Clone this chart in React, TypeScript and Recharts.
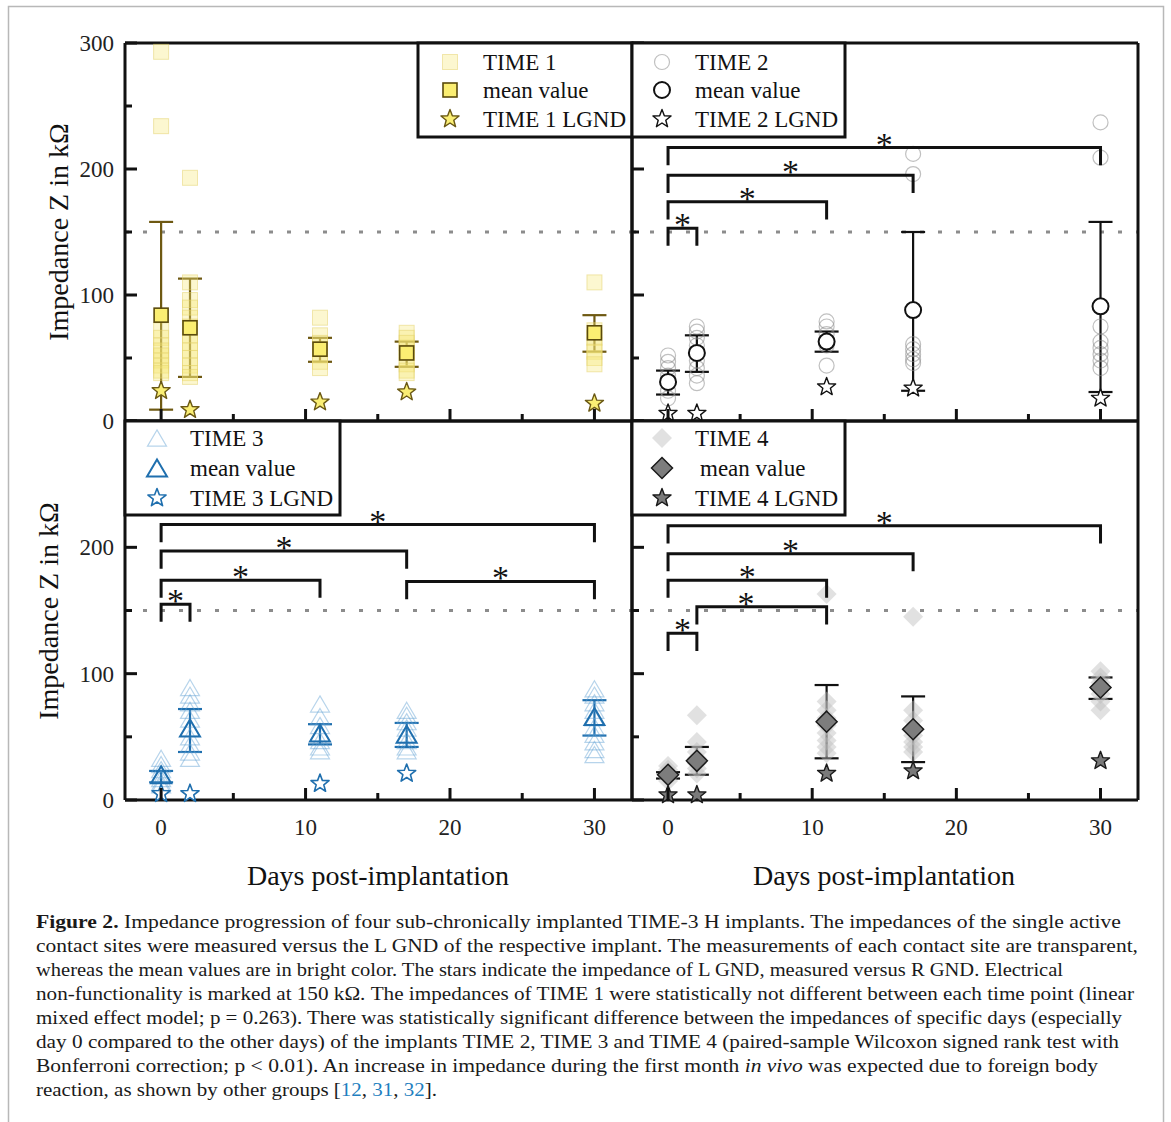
import React from "react";
import { ScatterChart, Scatter, XAxis, YAxis, ErrorBar, ReferenceLine } from "recharts";

const FONT = "'Liberation Serif', 'Times New Roman', serif";

// measurement days (x positions)
const days = [0, 2, 11, 17, 30];
const xTicks = [0, 5, 10, 15, 20, 25, 30];
const yTicks = [0, 50, 100, 150, 200, 250, 300];
const xLabelTicks = [0, 10, 20, 30];
const topYLabels = [0, 100, 200, 300];
const bottomYLabels = [0, 100, 200];
const limitValue = 150;

// TIME 1
const time1Sites = [
  [293, 234, 72, 66, 60, 56, 52, 48, 44, 40, 38],
  [193, 110, 96, 90, 82, 75, 68, 62, 56, 50, 44, 38, 35],
  [82, 68, 62, 57, 52, 47, 42],
  [70, 66, 62, 58, 54, 50, 45, 40, 38],
  [110, 72, 66, 60, 55, 50, 45],
];
const time1Mean = [84, 74, 57, 54, 70];
const time1Upper = [158, 113, 66, 63, 84];
const time1Lower = [9, 35, 47, 43, 55];
const time1Lgnd = [24, 9, 15, 23, 14];
const time1LgndDays = [0, 2, 11, 17, 30];
const time1Brackets: number[][] = [];

// TIME 2
const time2Sites = [
  [52, 47, 42, 36, 30, 24, 18],
  [75, 71, 66, 60, 54, 48, 42, 36, 30],
  [79, 75, 69, 60, 44],
  [212, 196, 61, 57, 53, 49, 46],
  [237, 209, 75, 63, 58, 53, 48, 42],
];
const time2Mean = [31, 54, 63, 88, 91];
const time2Upper = [40, 68, 71, 150, 158];
const time2Lower = [21, 39, 55, 24, 23];
const time2Lgnd = [6, 6, 27, 26, 18];
const time2LgndDays = [0, 2, 11, 17, 30];
const time2Brackets = [[0, 2, 153], [0, 11, 174], [0, 17, 195], [0, 30, 217]];

// TIME 3
const time3Sites = [
  [33, 28, 24, 20, 17, 14, 12],
  [89, 83, 77, 71, 64, 57, 50, 44, 38, 33],
  [76, 66, 59, 53, 47, 42, 39],
  [71, 67, 62, 57, 52, 47, 42, 39],
  [88, 83, 77, 71, 65, 58, 52, 46, 40, 36],
];
const time3Mean = [20, 57, 53, 52, 66];
const time3Upper = [23, 72, 60, 61, 79];
const time3Lower = [14, 38, 44, 42, 51];
const time3Lgnd = [5, 5, 13, 21];
const time3LgndDays = [0, 2, 11, 17];
const time3Brackets = [[0, 2, 155], [0, 11, 174], [0, 17, 197], [0, 30, 218], [17, 30, 173]];

// TIME 4
const time4Sites = [
  [27, 24, 21, 18, 15],
  [67, 46, 38, 33, 29, 25, 21],
  [163, 78, 71, 65, 59, 53, 47, 42, 37],
  [145, 71, 63, 57, 51, 46, 42, 38],
  [102, 97, 93, 88, 84, 78, 71],
];
const time4Mean = [20, 31, 62, 56, 89];
const time4Upper = [22, 42, 91, 82, 97];
const time4Lower = [17, 20, 33, 30, 80];
const time4Lgnd = [4, 4, 21, 23, 31];
const time4LgndDays = [0, 2, 11, 17, 30];
// [from, to, height, asterisk x (optional)]
const time4Brackets = [[0, 2, 132], [2, 11, 153, 5.4], [0, 11, 174], [0, 17, 195], [0, 30, 217]];

const captionLines: [string, string][][] = [
  [["Figure 2.", "b"], [" Impedance progression of four sub-chronically implanted TIME-3 H implants. The impedances of the single active", ""]],
  [["contact sites were measured versus the L GND of the respective implant. The measurements of each contact site are transparent,", ""]],
  [["whereas the mean values are in bright color. The stars indicate the impedance of L GND, measured versus R GND. Electrical", ""]],
  [["non-functionality is marked at 150 k\u03a9. The impedances of TIME 1 were statistically not different between each time point (linear", ""]],
  [["mixed effect model; p = 0.263). There was statistically significant difference between the impedances of specific days (especially", ""]],
  [["day 0 compared to the other days) of the implants TIME 2, TIME 3 and TIME 4 (paired-sample Wilcoxon signed rank test with", ""]],
  [["Bonferroni correction; p < 0.01). An increase in impedance during the first month ", ""], ["in vivo", "i"], [" was expected due to foreign body", ""]],
  [["reaction, as shown by other groups [", ""], ["12", "c"], [", ", ""], ["31", "c"], [", ", ""], ["32", "c"], ["].", ""]],
];
const captionEnds = [1121, 1138, 1063, 1134, 1122, 1119, 1098, 437];

type St = { kind: string; s: number; fill: string; stroke: string; sw?: number; fo?: number; so?: number };

function starPath(cx: number, cy: number, R: number) {
  const r = R * 0.42;
  let d = "";
  for (let i = 0; i < 10; i++) {
    const rad = i % 2 === 0 ? R : r;
    const a = -Math.PI / 2 + (i * Math.PI) / 5;
    d += (i === 0 ? "M" : "L") + (cx + rad * Math.cos(a)).toFixed(2) + "," + (cy + rad * Math.sin(a)).toFixed(2);
  }
  return d + "Z";
}

function Marker({ st, cx, cy }: { st: St; cx: number; cy: number }) {
  const p = {
    fill: st.fill,
    stroke: st.stroke,
    strokeWidth: st.sw ?? 1,
    fillOpacity: st.fo ?? 1,
    strokeOpacity: st.so ?? 1,
  };
  const s = st.s;
  if (st.kind === "square") return <rect x={cx - s / 2} y={cy - s / 2} width={s} height={s} {...p} />;
  if (st.kind === "circle") return <circle cx={cx} cy={cy} r={s / 2} {...p} />;
  if (st.kind === "triangle") {
    const h = s * 0.85;
    return <path d={`M${cx},${cy - h / 2}L${cx + s / 2},${cy + h / 2}L${cx - s / 2},${cy + h / 2}Z`} {...p} />;
  }
  if (st.kind === "diamond")
    return <path d={`M${cx},${cy - s / 2}L${cx + s / 2},${cy}L${cx},${cy + s / 2}L${cx - s / 2},${cy}Z`} {...p} />;
  return <path d={starPath(cx, cy, s / 2)} {...p} strokeLinejoin="round" />;
}

function Tick(props: any) {
  const { x, y, payload, side, labels } = props;
  const v = payload.value;
  const major = side === "b" || side === "t" ? v % 10 === 0 : v % 100 === 0;
  const len = major ? 12 : 7;
  const pts =
    side === "b" ? [x, y, x, y - len] : side === "t" ? [x, y, x, y + len] : side === "l" ? [x, y, x + len, y] : [x, y, x - len, y];
  const show = labels && labels.includes(v);
  return (
    <g>
      <line x1={pts[0]} y1={pts[1]} x2={pts[2]} y2={pts[3]} stroke="#111" strokeWidth={3} />
      {show && side === "b" && (
        <text x={x} y={y + 35} textAnchor="middle" fontFamily={FONT} fontSize={23} fill="#222">
          {v}
        </text>
      )}
      {show && side === "l" && (
        <text x={x - 11} y={y + 8} textAnchor="end" fontFamily={FONT} fontSize={23} fill="#222">
          {v}
        </text>
      )}
    </g>
  );
}

const M = { top: 12, right: 12, bottom: 70, left: 110 };
const xDomain = [-2.5, 32.6];
const frame = { stroke: "#111", strokeWidth: 3 };

function Panel(cfg: any) {
  const { left, top, w, h, sites, mean, upper, lower, lgnd, lgndDays, brackets, siteSt, meanSt, starSt, errColor, xLabels, yLabels } = cfg;
  const siteData = days.flatMap((d, i) => sites[i].map((v: number) => ({ x: d, y: v })));
  const meanData = days.map((d, i) => ({ x: d, y: mean[i], err: [mean[i] - lower[i], upper[i] - mean[i]] }));
  const starData = lgndDays.map((d: number, i: number) => ({ x: d, y: lgnd[i] }));
  const leg = 14;
  // axes take 1px each, so the chart box grows by 2px on each axis
  return (
    <div style={{ position: "absolute", left: left - M.left - 1, top: top - M.top - 1 }}>
      <ScatterChart width={w + M.left + M.right + 2} height={h + M.top + M.bottom + 2} margin={M}>
        <XAxis xAxisId="b" orientation="bottom" dataKey="x" type="number" domain={xDomain} ticks={xTicks} interval={0}
          height={1} tickSize={0} tickMargin={0} tickLine={false} axisLine={frame}
          tick={(p: any) => <Tick {...p} side="b" labels={xLabels ? xLabelTicks : null} />} />
        <XAxis xAxisId="t" orientation="top" dataKey="x" type="number" domain={xDomain} ticks={xTicks} interval={0}
          height={1} tickSize={0} tickMargin={0} tickLine={false} axisLine={frame}
          tick={(p: any) => <Tick {...p} side="t" />} />
        <YAxis yAxisId="l" orientation="left" dataKey="y" type="number" domain={[0, 300]} ticks={yTicks} interval={0}
          width={1} tickSize={0} tickMargin={0} tickLine={false} axisLine={frame}
          tick={(p: any) => <Tick {...p} side="l" labels={yLabels} />} />
        <YAxis yAxisId="r" orientation="right" dataKey="y" type="number" domain={[0, 300]} ticks={yTicks} interval={0}
          width={1} tickSize={0} tickMargin={0} tickLine={false} axisLine={frame}
          tick={(p: any) => <Tick {...p} side="r" />} />
        <ReferenceLine xAxisId="b" yAxisId="l" y={limitValue} stroke="#8c8c8c" strokeWidth={3} strokeDasharray="4 14" />
        <Scatter xAxisId="b" yAxisId="l" data={siteData} isAnimationActive={false}
          shape={(p: any) => <Marker st={siteSt} cx={p.cx} cy={p.cy} />} />
        <Scatter xAxisId="b" yAxisId="l" data={meanData} isAnimationActive={false}
          shape={(p: any) => <Marker st={meanSt} cx={p.cx} cy={p.cy} />}>
          <ErrorBar dataKey="err" direction="y" width={12} stroke={errColor} strokeWidth={2.2} />
        </Scatter>
        <Scatter xAxisId="b" yAxisId="l" data={starData} isAnimationActive={false}
          shape={(p: any) => <Marker st={starSt} cx={p.cx} cy={p.cy} />} />
        {brackets.map((b: number[], i: number) => (
          <Scatter key={"br" + i} xAxisId="b" yAxisId="l" isAnimationActive={false}
            data={[{ x: b[0], y: b[2] - leg }, { x: b[0], y: b[2] }, { x: b[1], y: b[2] }, { x: b[1], y: b[2] - leg }]}
            line={{ stroke: "#111", strokeWidth: 3 }} lineType="joint" shape={() => <g />} />
        ))}
        <Scatter xAxisId="b" yAxisId="l" isAnimationActive={false}
          data={brackets.map((b: number[]) => ({ x: b.length > 3 ? b[3] : (b[0] + b[1]) / 2, y: b[2] }))}
          shape={(p: any) => (
            <text x={p.cx} y={p.cy + 8} textAnchor="middle" fontFamily={FONT} fontSize={34} fill="#111">*</text>
          )} />
      </ScatterChart>
    </div>
  );
}

function Legend({ box, mx, tx, rows, items }: any) {
  return (
    <g>
      <rect x={box[0]} y={box[1]} width={box[2] - box[0]} height={box[3] - box[1]} fill="#fff" stroke="#111" strokeWidth={3} />
      {items.map((it: any, i: number) => (
        <g key={i}>
          <Marker st={it.st} cx={mx} cy={rows[i]} />
          <text x={tx + (it.dx || 0)} y={rows[i] + 8} fontFamily={FONT} fontSize={23} fill="#111">{it.label}</text>
        </g>
      ))}
    </g>
  );
}

const s1 = {
  site: { kind: "square", s: 15, fill: "#f5e878", fo: 0.35, stroke: "#e3d26a", so: 0.5, sw: 1 },
  mean: { kind: "square", s: 14, fill: "#fbee72", stroke: "#5a4a0c", sw: 1.6 },
  star: { kind: "star", s: 19, fill: "#faee74", stroke: "#6a5814", sw: 1.4 },
};
const s2 = {
  site: { kind: "circle", s: 15, fill: "none", stroke: "#8c8c8c", so: 0.55, sw: 1.2 },
  mean: { kind: "circle", s: 16, fill: "#fff", stroke: "#111", sw: 2 },
  star: { kind: "star", s: 19, fill: "#fff", stroke: "#111", sw: 1.4 },
};
const s3 = {
  site: { kind: "triangle", s: 19, fill: "none", stroke: "#5f9fd2", so: 0.45, sw: 1.2 },
  mean: { kind: "triangle", s: 20, fill: "none", stroke: "#1f6fae", sw: 2 },
  star: { kind: "star", s: 19, fill: "#fff", stroke: "#1f6fae", sw: 1.6 },
};
const s4 = {
  site: { kind: "diamond", s: 20, fill: "#bdbdbd", fo: 0.45, stroke: "none", sw: 0 },
  mean: { kind: "diamond", s: 21, fill: "#7d7d7d", stroke: "#1a1a1a", sw: 1.5 },
  star: { kind: "star", s: 19, fill: "#7a7a7a", stroke: "#1a1a1a", sw: 1.4 },
};

export default function App() {
  return (
    <div style={{ position: "absolute", left: 0, top: 0, width: 1171, height: 1122, background: "#fff", overflow: "hidden" }}>
      <svg width={1171} height={1122} style={{ position: "absolute", left: 0, top: 0 }}>
        <rect x={8.5} y={6.5} width={1155} height={1140} fill="none" stroke="#b8b8b8" strokeWidth={1.5} />
        <text transform="translate(59,232) rotate(-90)" y={9} textAnchor="middle" fontFamily={FONT} fontSize={28} fill="#111">
          Impedance Z in k{"\u03a9"}
        </text>
        <text transform="translate(49,611) rotate(-90)" y={9} textAnchor="middle" fontFamily={FONT} fontSize={28} fill="#111">
          Impedance Z in k{"\u03a9"}
        </text>
        <text x={378} y={885} textAnchor="middle" fontFamily={FONT} fontSize={28} fill="#111">Days post-implantation</text>
        <text x={884} y={885} textAnchor="middle" fontFamily={FONT} fontSize={28} fill="#111">Days post-implantation</text>
        {captionLines.map((line, i) => (
          <text key={i} x={36} y={928 + i * 24} fontFamily={FONT} fontSize={19} fill="#1a1a1a"
            textLength={captionEnds[i] - 36} lengthAdjust="spacingAndGlyphs">
            {line.map(([t, f], j) => (
              <tspan key={j} fontWeight={f === "b" ? "bold" : undefined} fontStyle={f === "i" ? "italic" : undefined}
                fill={f === "c" ? "#1f7fc0" : undefined}>{t}</tspan>
            ))}
          </text>
        ))}
      </svg>
      <Panel left={125} top={43} w={507} h={378} sites={time1Sites} mean={time1Mean} upper={time1Upper} lower={time1Lower}
        lgnd={time1Lgnd} lgndDays={time1LgndDays} brackets={time1Brackets} siteSt={s1.site} meanSt={s1.mean} starSt={s1.star}
        errColor="#6e5912" xLabels={false} yLabels={topYLabels} />
      <Panel left={632} top={43} w={506} h={378} sites={time2Sites} mean={time2Mean} upper={time2Upper} lower={time2Lower}
        lgnd={time2Lgnd} lgndDays={time2LgndDays} brackets={time2Brackets} siteSt={s2.site} meanSt={s2.mean} starSt={s2.star}
        errColor="#111" xLabels={false} yLabels={null} />
      <Panel left={125} top={421} w={507} h={379} sites={time3Sites} mean={time3Mean} upper={time3Upper} lower={time3Lower}
        lgnd={time3Lgnd} lgndDays={time3LgndDays} brackets={time3Brackets} siteSt={s3.site} meanSt={s3.mean} starSt={s3.star}
        errColor="#1f6fae" xLabels={true} yLabels={bottomYLabels} />
      <Panel left={632} top={421} w={506} h={379} sites={time4Sites} mean={time4Mean} upper={time4Upper} lower={time4Lower}
        lgnd={time4Lgnd} lgndDays={time4LgndDays} brackets={time4Brackets} siteSt={s4.site} meanSt={s4.mean} starSt={s4.star}
        errColor="#111" xLabels={true} yLabels={null} />
      <svg width={1171} height={1122} style={{ position: "absolute", left: 0, top: 0, pointerEvents: "none" }}>
        <Legend box={[418, 43, 632, 137]} mx={450} tx={483} rows={[62, 90, 119]}
          items={[{ st: s1.site, label: "TIME 1" }, { st: s1.mean, label: "mean value" }, { st: s1.star, label: "TIME 1 LGND" }]} />
        <Legend box={[632, 43, 845, 137]} mx={662} tx={695} rows={[62, 90, 119]}
          items={[{ st: s2.site, label: "TIME 2" }, { st: s2.mean, label: "mean value" }, { st: s2.star, label: "TIME 2 LGND" }]} />
        <Legend box={[125, 421, 340, 515]} mx={157} tx={190} rows={[438, 468, 498]}
          items={[{ st: s3.site, label: "TIME 3" }, { st: s3.mean, label: "mean value" }, { st: s3.star, label: "TIME 3 LGND" }]} />
        <Legend box={[632, 421, 845, 515]} mx={662} tx={695} rows={[438, 468, 498]}
          items={[{ st: s4.site, label: "TIME 4" }, { st: s4.mean, label: "mean value", dx: 5 }, { st: s4.star, label: "TIME 4 LGND" }]} />
      </svg>
    </div>
  );
}
